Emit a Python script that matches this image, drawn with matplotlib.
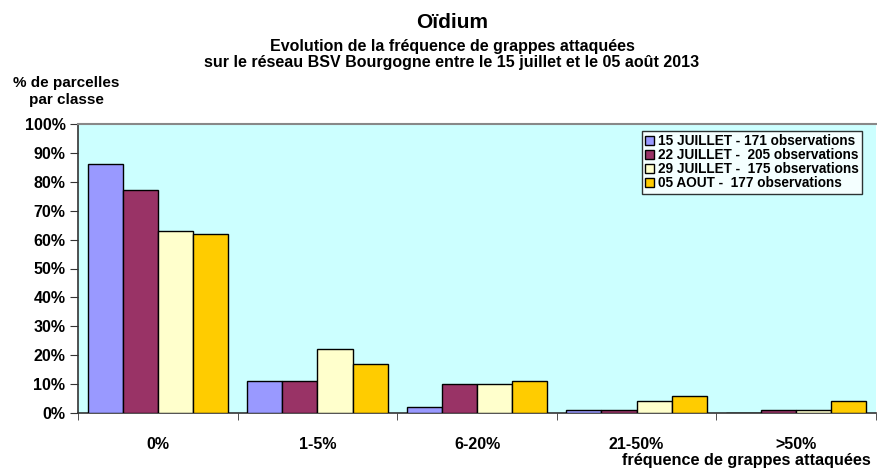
import numpy as np
import matplotlib
matplotlib.use('Agg')
import matplotlib.pyplot as plt
from matplotlib.ticker import FuncFormatter

plt.rcParams['font.family'] = ['Liberation Sans', 'DejaVu Sans']
plt.rcParams['font.weight'] = 'bold'

categories = ['0%', '1-5%', '6-20%', '21-50%', '>50%']
series_labels = ['15 JUILLET - 171 observations',
                 '22 JUILLET -  205 observations',
                 '29 JUILLET -  175 observations',
                 '05 AOUT -  177 observations']
juillet_15 = [86, 11, 2, 1, 0]
juillet_22 = [77, 11, 10, 1, 1]
juillet_29 = [63, 22, 10, 4, 1]
aout_05 = [62, 17, 11, 6, 4]
colors = ['#9999FF', '#993366', '#FFFFCC', '#FFCC00']

W, H = 877, 470
fig = plt.figure(figsize=(W / 100, H / 100), dpi=100)
ax = fig.add_axes([78 / W, (H - 413) / H, (876 - 78) / W, (413 - 124) / H])
ax.set_facecolor('#CCFFFF')

x = np.arange(len(categories))
bw = 0.22
all_series = [juillet_15, juillet_22, juillet_29, aout_05]
for i, (vals, col, lab) in enumerate(zip(all_series, colors, series_labels)):
    ax.bar(x + (i - 1.5) * bw, vals, bw, color=col, edgecolor='black',
           linewidth=1, label=lab, zorder=3)

ax.set_xlim(-0.5, len(categories) - 0.5)
ax.set_ylim(0, 100)
ax.set_yticks(np.arange(0, 101, 10))
ax.yaxis.set_major_formatter(FuncFormatter(lambda v, p: f'{int(v)}%'))
ax.set_xticks(x)
ax.set_xticklabels(categories)
ax.set_xticks(np.arange(-0.5, len(categories), 1), minor=True)
ax.tick_params(axis='x', which='major', length=0, pad=17, labelsize=11.5)
ax.tick_params(axis='x', which='minor', length=5, direction='out', color='#333333')
ax.tick_params(axis='y', length=6, direction='out', labelsize=11.5, pad=3,
               color='#333333')

for s in ['left', 'bottom']:
    ax.spines[s].set_color('#333333')
    ax.spines[s].set_linewidth(1.2)
ax.spines['top'].set_color('#888888')
ax.spines['top'].set_linewidth(1.5)
ax.spines['right'].set_visible(False)

leg = ax.legend(loc='upper right', bbox_to_anchor=((862 - 78) / 798, (413 - 131) / 289),
                fontsize=9.8, frameon=True, fancybox=False, edgecolor='black',
                handlelength=0.7, handleheight=0.7, handletextpad=0.25,
                labelspacing=0.0, borderpad=0.25, borderaxespad=0)
leg.get_frame().set_linewidth(1)
leg.get_frame().set_facecolor('white')
leg.set_zorder(5)

fig.text(452 / W, 1 - 23 / H, 'Oïdium', ha='center', va='center', fontsize=15)
fig.text(452 / W, 1 - 46 / H, 'Evolution de la fréquence de grappes attaquées',
         ha='center', va='center', fontsize=11.5)
fig.text(452 / W, 1 - 63 / H, 'sur le réseau BSV Bourgogne entre le 15 juillet et le 05 août 2013',
         ha='center', va='center', fontsize=11.5)
fig.text(66 / W, 1 - 83 / H, '% de parcelles', ha='center', va='center', fontsize=11)
fig.text(66 / W, 1 - 100 / H, 'par classe', ha='center', va='center', fontsize=11)
fig.text(871 / W, 1 - 460 / H, 'fréquence de grappes attaquées', ha='right',
         va='center', fontsize=11.7)

fig.savefig('out.png', dpi=100, facecolor='white')
